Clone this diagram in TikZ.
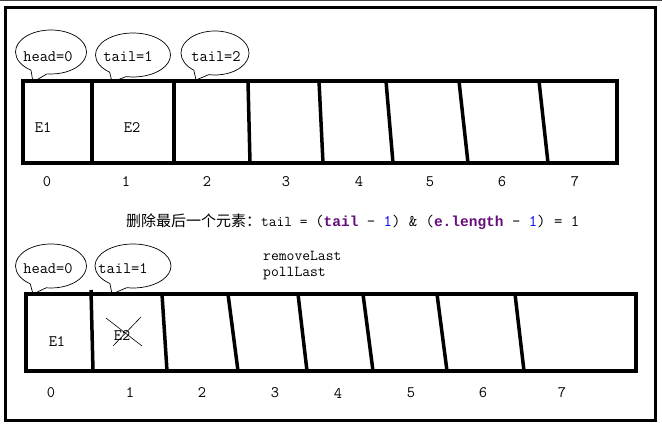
\documentclass[tikz,border=0pt]{standalone}
\usepackage{fontspec}
\newfontfamily\cjk{Noto Sans CJK SC}
\newfontfamily\boldmono{Liberation Mono}
\usetikzlibrary{shapes.callouts}
\definecolor{kwpurple}{HTML}{660E7A}
\definecolor{numblue}{HTML}{0000FF}
\newcommand\kw[1]{{\boldmono\bfseries\fontsize{14.5}{16}\selectfont\color{kwpurple}#1}}
\newcommand\num[1]{{\color{numblue}#1}}
\begin{document}
\begin{tikzpicture}[x=1pt,y=-1pt,
  frame/.style={line width=3pt},
  arr/.style={line width=3.5pt},
  divider/.style={line width=3.5pt},
  bubble/.style={ellipse callout, draw, line width=0.7pt, inner sep=0pt,
     minimum width=71pt, minimum height=44pt, callout pointer arc=28},
  txt/.style={font=\ttfamily\fontsize{16}{18}\selectfont, inner sep=0pt},
  code/.style={font=\ttfamily\fontsize{15.2}{18}\selectfont, inner sep=0pt, anchor=west},
  cross/.style={line width=0.6pt}]
\useasboundingbox (0,0) rectangle (662,425);
\draw[line width=1.5pt, black!75] (0,0.75) -- (662,0.75);
\draw[frame] (5,8) rectangle (655,420);

% ---------- top array ----------
\draw[arr] (23,81) rectangle (617,163);
\draw[divider] (92,81) -- (92,165);
\draw[divider] (174,81) -- (174,165);
\draw[divider] (248,81) -- (250,163);
\draw[divider] (319,81) -- (323,163);
\draw[divider] (386,81) -- (393,163);
\draw[divider] (459,81) -- (468,163);
\draw[divider] (539,81) -- (548,163);

\node[txt] (te1) at (43,128) {E1};
\node[txt] (te2) at (132,128) {E2};

\foreach \i/\x in {0/47,1/126,2/207,3/286,4/359,5/430,6/502,7/575}
  \node[txt] (ti\i) at (\x,182) {\i};

\node[bubble, callout absolute pointer={(33,82)}] (tbh) at (51,52) {};
\node[txt] (tbht) at (48,57) {head=0};
\node[bubble, callout absolute pointer={(112,82)}, minimum width=75pt] (tbt1) at (133,55) {};
\node[txt] (tbt1t) at (128,57) {tail=1};
\node[bubble, callout absolute pointer={(196,80)}, minimum width=68pt] (tbt2) at (215,53) {};
\node[txt] (tbt2t) at (216,57) {tail=2};

% ---------- middle text ----------
\node[anchor=west, inner sep=0pt, font=\ttfamily\fontsize{15}{17}\selectfont] (formula) at (126,222)
 {{\cjk\fontsize{15}{16}\selectfont 删除最后一个元素：}tail = {\fontsize{16.3}{18}\selectfont(\kw{tail} - \num{1}) \& (\kw{e.length} - \num{1}) = 1}};

\node[code] (rl) at (263,256) {removeLast};
\node[code] (pl) at (263,274) {pollLast};

% ---------- bottom array ----------
\draw[arr] (26,294) rectangle (636,371);
\draw[divider] (91,290) -- (93,371);
\draw[divider] (162,294) -- (167,371);
\draw[divider] (228,294) -- (238,371);
\draw[divider] (298,294) -- (307,371);
\draw[divider] (363,294) -- (373,371);
\draw[divider] (437,294) -- (447,371);
\draw[divider] (515,294) -- (524,371);

\node[txt] (be1) at (57,342) {E1};
\node[txt] (be2) at (122,336) {E2};
\coordinate (xa) at (106,318);
\coordinate (xb) at (142,346);
\coordinate (xc) at (141,317);
\coordinate (xd) at (113,346);
\draw[cross] (xa) -- (xb);
\draw[cross] (xc) -- (xd);

\foreach \i/\x in {0/51,1/130,2/202,3/275,4/338,5/411,6/483,7/562}
  \node[txt] (bi\i) at (\x,393) {\i};

\node[bubble, callout absolute pointer={(33,294)}] (bbh) at (51,266) {};
\node[txt] (bbht) at (48,269) {head=0};
\node[bubble, callout absolute pointer={(112,294)}, minimum width=76pt] (bbt1) at (133,266) {};
\node[txt] (bbt1t) at (123,269) {tail=1};
\end{tikzpicture}
\end{document}
